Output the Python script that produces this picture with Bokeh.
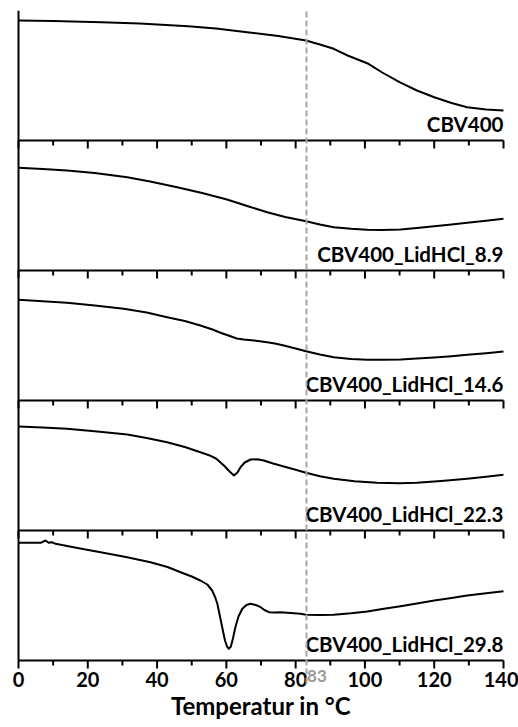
from bokeh.plotting import figure
from bokeh.models import Range1d, LinearAxis, SingleIntervalTicker, FixedTicker, ColumnDataSource, Label
from bokeh.core.properties import value
from bokeh.embed import file_html
from bokeh.resources import INLINE

# ---- data (signal in arbitrary units, per panel) ----
names = ["CBV400", "CBV400_LidHCl_8.9", "CBV400_LidHCl_14.6",
         "CBV400_LidHCl_22.3", "CBV400_LidHCl_29.8"]

t_cbv400 = [0, 10, 24, 35, 49, 57, 66, 75, 83, 87, 91, 95, 101, 105, 110, 115, 120, 125, 129.5, 135, 140]
s_cbv400 = [120, 119.5, 118.3, 117, 114.3, 112, 108.3, 104.5, 100, 96, 91.7, 85, 76.7, 68, 58.3, 50, 43.3, 37.5, 33.3, 31, 30]

t_89 = [0, 7, 14, 22, 31.4, 38, 45.8, 53, 60.2, 66, 71.8, 77, 83, 87, 91, 96, 100.7, 105, 110.3, 115, 120, 125, 129.5, 135, 140]
s_89 = [102.7, 101.5, 100, 97.5, 93.3, 89, 83.3, 77.5, 71, 64.5, 58.3, 53.5, 49.3, 46, 43.3, 41.7, 40.7, 40.5, 41, 42.5, 44.3, 46, 47.7, 49.7, 51.7]

t_146 = [0, 7, 14, 22, 30.4, 37, 42.9, 48, 52.5, 56, 58.5, 61, 63, 65, 68, 71.8, 74, 76.6, 80, 83, 87, 91, 96, 100.7, 105, 110.3, 115, 120, 125, 129.5, 135, 140]
s_146 = [100.7, 99.3, 97.7, 95, 91.7, 88, 83.3, 79.5, 75, 71, 67.5, 64.5, 62, 61, 60, 58.3, 57, 55, 52, 49.3, 46, 43.3, 41.5, 40.7, 40.7, 41, 42, 43, 44.3, 45.7, 47.3, 49]

t_223 = [0, 7, 14, 22, 31.4, 37, 42.9, 48, 52.5, 55, 57, 59.3, 60.8, 62.2, 63.2, 64.1, 65.3, 67, 69, 70.8, 73.5, 76.6, 80, 83, 87, 91, 97, 103.5, 110, 115, 122, 129.5, 135, 140]
s_223 = [104, 103, 101.7, 99.3, 96, 92.5, 88.3, 83.5, 78.3, 75.3, 72, 65, 59.5, 55, 58, 63.3, 68, 71, 71.2, 70, 67, 64, 60.7, 57.7, 54.3, 51.7, 49.3, 47.7, 47.3, 47.7, 49.5, 51.7, 53.7, 55.7]

t_298 = [0, 6.4, 7.8, 8.7, 9.6, 10.7, 17, 23.7, 31, 38.1, 43, 46.8, 50, 52.5, 54.5, 55.9, 56.8, 57.4, 58.1, 58.8, 59.6, 60.2, 60.7, 61.3, 61.9, 62.6, 63.5,
         64.6, 65.8, 67, 68.5, 69.9, 71, 72.3, 74, 75.6, 78.5, 81.4, 83, 87, 91, 96, 100.7, 105, 110.3, 115, 120, 125, 129.5, 135, 140]
s_298 = [117.7, 117.7, 120, 117.7, 118.3, 116.7, 112.5, 108.3, 103.5, 98.3, 93.5, 88.3, 84, 80, 76, 70, 63, 56.7, 45, 33.3, 20, 14, 11.7, 14, 22, 33.3, 44,
         51.7, 55.5, 56.7, 55.5, 53.3, 50.5, 48.3, 48, 48.3, 47.5, 46.7, 45.7, 45.5, 45.7, 47.2, 49, 51.5, 54.3, 57, 60, 62.5, 65, 67.2, 69.3]

temps = [t_cbv400, t_89, t_146, t_223, t_298]
signals = [s_cbv400, s_89, s_146, s_223, s_298]

marker_temp = 83
x_min, x_max = 0, 140
tick_step = 20
minor_step = 10

# ---- layout constants ----
PANEL = 130          # panel height (px == data units)
N = len(names)
TOP = PANEL * N
BELOW = 65           # room under the lowest panel for tick labels and title
PLOT_W = 485         # px between 0 and 140 °C
PAD_L, PAD_R = 18, 15
FONT = "Lato"
GREY = "#a6a6a6"
MAJOR_LEN, MINOR_LEN = 8, 5

ppu = PLOT_W / (x_max - x_min)
p = figure(frame_width=PLOT_W + PAD_L + PAD_R, frame_height=TOP + BELOW,
           x_range=Range1d(x_min - PAD_L / ppu, x_max + PAD_R / ppu),
           y_range=Range1d(-BELOW, TOP),
           output_backend="svg", toolbar_location=None,
           min_border_left=0, min_border_right=0, min_border_top=10, min_border_bottom=0)
p.xgrid.visible = False
p.ygrid.visible = False
p.outline_line_color = None
p.background_fill_color = "white"
p.border_fill_color = "white"

# left axis: line only, at 0 °C, limited to the panels
p.yaxis.fixed_location = x_min
p.yaxis.ticker = FixedTicker(ticks=[])
p.yaxis.bounds = (0, TOP)
p.yaxis.axis_line_width = 2
p.yaxis.axis_line_color = "black"
p.yaxis.major_label_standoff = 0


def style_x(ax, labels=True):
    ax.ticker = SingleIntervalTicker(interval=tick_step, num_minor_ticks=2)
    ax.bounds = (x_min, x_max)
    ax.axis_line_width = 2
    ax.axis_line_color = "black"
    # tick marks are drawn as segments below; keep the extent for label spacing
    ax.major_tick_line_color = None
    ax.minor_tick_line_color = None
    ax.major_tick_out = MAJOR_LEN
    ax.major_tick_in = 0
    ax.minor_tick_out = MINOR_LEN
    ax.minor_tick_in = 0
    if labels:
        ax.major_label_text_font = FONT
        ax.major_label_text_font_size = "20px"
        ax.major_label_text_font_style = "bold"
        ax.major_label_text_color = "black"
        ax.major_label_standoff = 3
    else:
        ax.major_label_text_font_size = "0px"
        ax.major_label_text_color = None


# main temperature axis at the bottom of the lowest panel
main = p.xaxis[0]
main.fixed_location = 0
style_x(main)
main.axis_label = "Temperatur in °C"
main.axis_label_text_font = FONT
main.axis_label_text_font_size = "24px"
main.axis_label_text_font_style = "bold"
main.axis_label_text_color = "black"
main.axis_label_standoff = 1

# separators between panels
for k in range(1, N):
    ax = LinearAxis(fixed_location=k * PANEL)
    style_x(ax, labels=False)
    p.add_layout(ax, "below")

# tick marks under every panel's base line
major_ticks = list(range(x_min, x_max + 1, tick_step))
minor_ticks = [t for t in range(x_min, x_max + 1, minor_step) if t not in major_ticks]
tx, ty0, ty1 = [], [], []
for k in range(N):
    base = k * PANEL
    for t in major_ticks:
        tx.append(t); ty0.append(base); ty1.append(base - MAJOR_LEN)
    for t in minor_ticks:
        tx.append(t); ty0.append(base); ty1.append(base - MINOR_LEN)
p.segment(x0=tx, y0=ty0, x1=tx, y1=ty1, line_color="black", line_width=2, line_cap="butt")

# dashed marker line at 83 °C (runs through all panels and a bit below the axis)
mark = LinearAxis(fixed_location=0, ticker=FixedTicker(ticks=[marker_temp]))
mark.axis_line_color = None
mark.major_tick_line_color = GREY
mark.major_tick_line_width = 2
mark.major_tick_line_dash = "6 3"
mark.major_tick_in = TOP
mark.major_tick_out = 23
mark.major_label_text_font_size = "0px"
mark.major_label_text_color = None
p.add_layout(mark, "below")

p.add_layout(Label(x=marker_temp, y=0, x_offset=1, y_offset=-9, text=str(marker_temp),
                   text_baseline="top", text_align="left", text_color="#9a9a9a",
                   text_font=FONT, text_font_size="17px", text_font_style="bold"))

# curves
for i, (t, s) in enumerate(zip(temps, signals)):
    off = (N - 1 - i) * PANEL
    p.line(t, [v + off for v in s], line_color="black", line_width=2, line_join="round")

# panel labels
lab_src = ColumnDataSource(dict(
    x=[x_max] * N,
    y=[(N - 1 - i) * PANEL + 17 for i in range(N)],
    text=names))
p.text(x="x", y="y", text="text", source=lab_src, text_align="right",
       text_baseline="alphabetic", text_font=value(FONT), text_font_style="bold",
       text_font_size="20.5px", text_color="black")

open("out.html", "w").write(file_html(p, INLINE))
